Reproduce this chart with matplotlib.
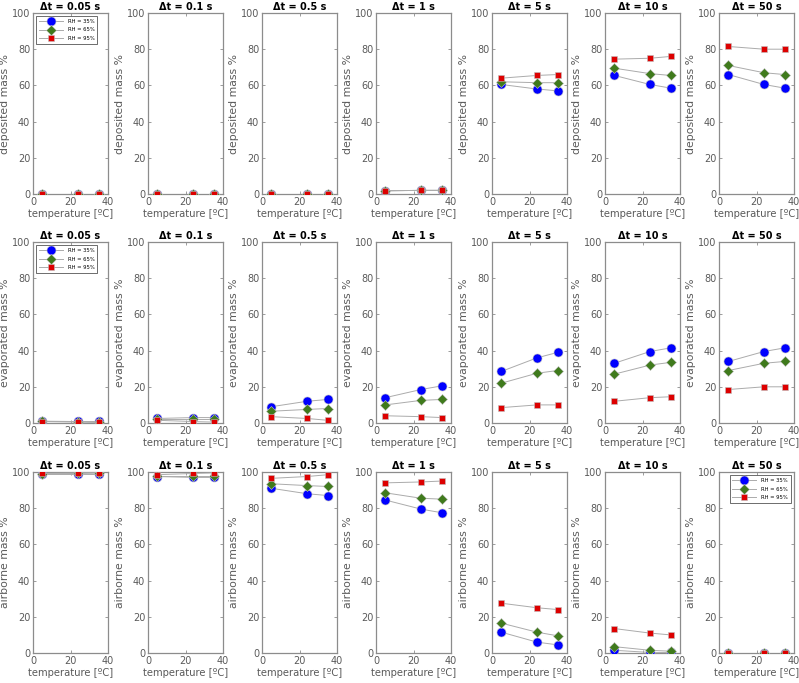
import numpy as np
import matplotlib
matplotlib.use('Agg')
import matplotlib.pyplot as plt

# temperatures [C]
temps = [5, 24, 35]
dts = ['0.05', '0.1', '0.5', '1', '5', '10', '50']
rh_labels = ['RH = 35%', 'RH = 65%', 'RH = 95%']

# deposited mass % per dt : (RH35, RH65, RH95)
dep_35 = [[0, 0, 0], [0, 0, 0], [0, 0, 0], [1.8, 2, 2],
          [60.5, 58, 57], [65.5, 60.5, 58.5], [66, 60.5, 58.5]]
dep_65 = [[0, 0, 0], [0, 0, 0], [0, 0, 0], [1.8, 2, 2],
          [62, 61.5, 61.5], [69.5, 66.5, 65.5], [71, 67, 66]]
dep_95 = [[0, 0, 0], [0, 0, 0], [0, 0, 0], [1.8, 2, 2],
          [64, 65.5, 66], [74.5, 75, 76], [81.5, 80, 80]]

# evaporated mass %
evp_35 = [[1.2, 1.2, 1.2], [2.5, 3, 3], [9, 12, 13], [14, 18.5, 20.5],
          [28.5, 36, 39], [33, 39.5, 41.5], [34, 39.5, 41.5]]
evp_65 = [[1, 0.8, 0.5], [2, 2, 2], [6.5, 7.5, 8], [10, 12.5, 13],
          [22, 27.5, 29], [27, 32, 33.5], [29, 33, 34]]
evp_95 = [[0.8, 0.5, 0.3], [1.5, 0.8, 0.5], [3.5, 2.5, 1.5], [4, 3.5, 3],
          [8.5, 10, 10], [12, 14, 14.5], [18.5, 20, 20]]

# airborne mass %
air_35 = [[98.8, 98.8, 98.8], [97.5, 97, 97], [91, 88, 87], [84.5, 79.5, 77.5],
          [11.5, 6, 4.5], [1.5, 0.3, 0.3], [0, 0, 0]]
air_65 = [[99, 99.2, 99.4], [98, 98, 98], [93.5, 92.5, 92], [88.5, 85.5, 85],
          [16.5, 11.5, 9.5], [3.5, 1.5, 1], [0, 0, 0]]
air_95 = [[99.2, 99.5, 99.7], [98.5, 99.2, 99.5], [96.5, 97.5, 98.5], [94, 94.5, 95],
          [27.5, 25, 24], [13.5, 11, 10], [0, 0, 0]]

rows = [
    ('deposited mass %', (dep_35, dep_65, dep_95)),
    ('evaporated mass %', (evp_35, evp_65, evp_95)),
    ('airborne mass %', (air_35, air_65, air_95)),
]
legend_pos = {(0, 0): 'upper left', (1, 0): 'upper left', (2, 6): 'upper right'}

colors = ['#0000ff', '#3f7a1c', '#dd0000']
markers = ['o', 'D', 's']
msizes = [6.5, 5.2, 5.0]
grey = '#8c8c8c'
txt = '#5a5a5a'

W, H = 799, 683
fig = plt.figure(figsize=(W / 100, H / 100), dpi=100)

col_left = [33, 148, 262, 376, 492, 605, 719]
row_top = [13, 242, 472]
aw, ah = 75, 181

for r, (ylabel, series) in enumerate(rows):
    for c, dt in enumerate(dts):
        ax = fig.add_axes([col_left[c] / W, 1 - (row_top[r] + ah) / H, aw / W, ah / H])
        for k in range(3):
            ax.plot(temps, series[k][c], color='#ababab', lw=0.7,
                    marker=markers[k], ms=msizes[k], mfc=colors[k],
                    mec='#c0c0c0', mew=0.4, label=rh_labels[k], zorder=3 + k)
        ax.set_xlim(0, 40)
        ax.set_ylim(0, 100)
        ax.set_xticks([0, 20, 40])
        ax.set_yticks([0, 20, 40, 60, 80, 100])
        ax.tick_params(direction='in', length=2.5, width=0.6, colors=grey,
                       labelcolor=txt, labelsize=7, top=True, right=True, pad=2)
        for s in ax.spines.values():
            s.set_color(grey)
            s.set_linewidth(0.9)
        ax.set_title('\u0394t = %s s' % dt, fontsize=7, fontweight='bold', pad=2)
        ax.set_xlabel('temperature [\u00baC]', fontsize=7.2, color=txt, labelpad=1.5)
        ax.set_ylabel(ylabel, fontsize=7.8, color=txt, labelpad=1)
        if (r, c) in legend_pos:
            ax.legend(loc=legend_pos[(r, c)], fontsize=3.8, fancybox=False,
                      edgecolor='#333333', framealpha=1, handlelength=4.5,
                      borderpad=0.5, labelspacing=0.7, handletextpad=1.0,
                      borderaxespad=0.6).get_frame().set_linewidth(0.5)

fig.savefig('out.png', dpi=100)
